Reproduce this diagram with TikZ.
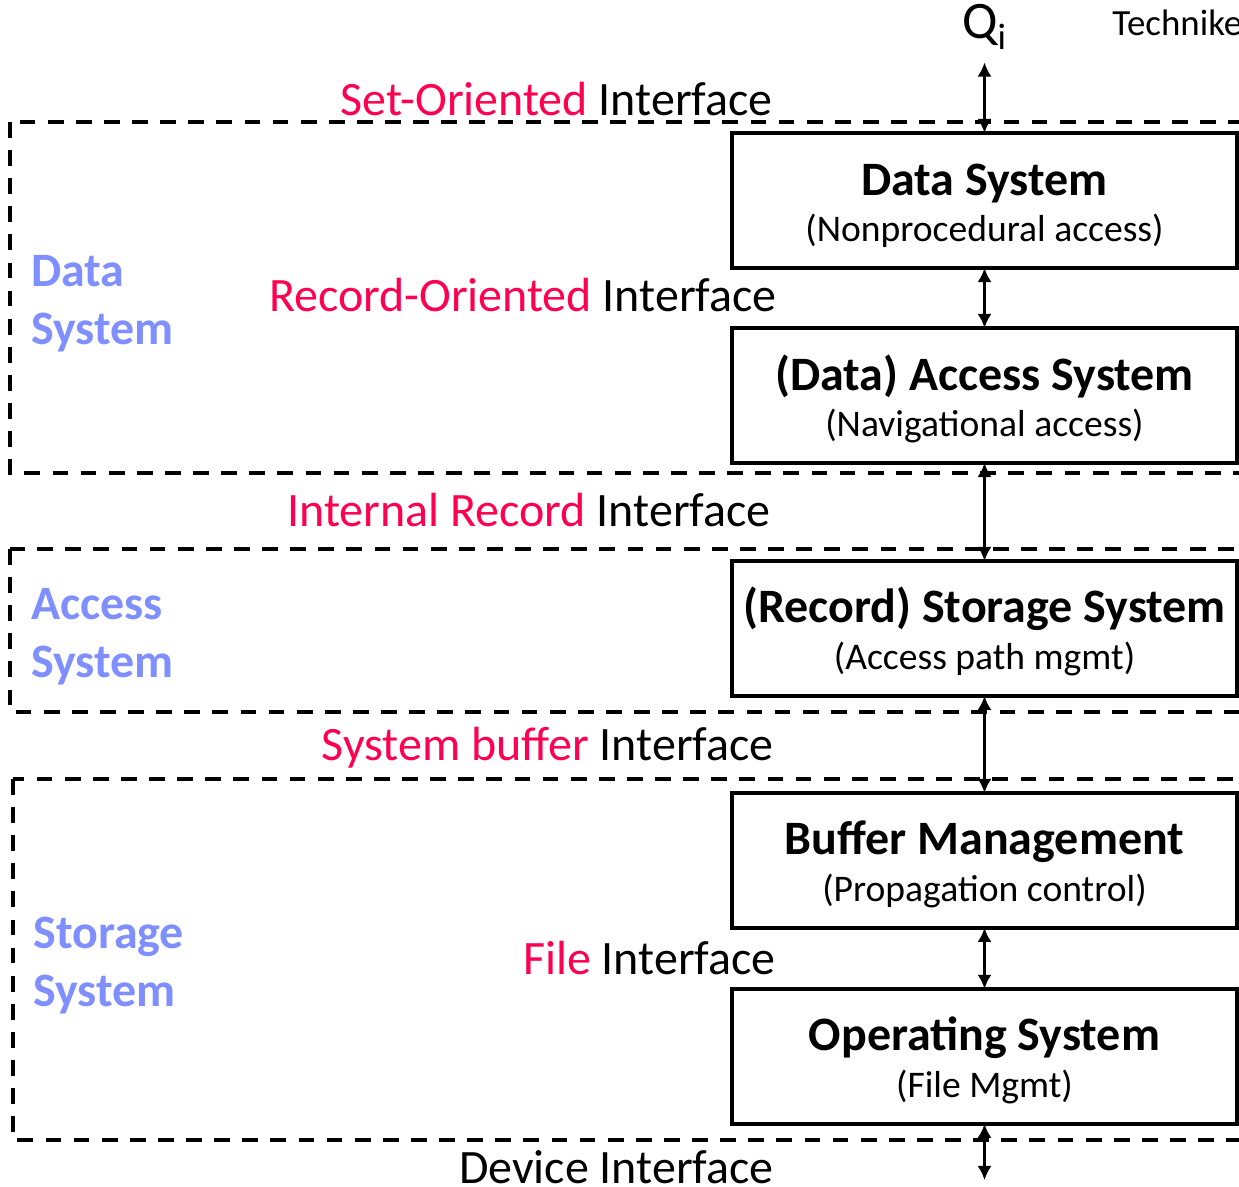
\documentclass[tikz,border=0pt]{standalone}
\usepackage{fontspec}
\setmainfont{Carlito}
\usetikzlibrary{positioning,arrows.meta}
\definecolor{ifred}{RGB}{255,0,80}
\definecolor{grpblue}{RGB}{127,143,255}
\tikzset{
  layerbox/.style={draw,line width=2pt,minimum width=10.1cm,minimum height=2.7cm,
    align=center,inner sep=0pt,outer sep=0pt,font=\fontsize{21.4}{26.6}\selectfont},
  groupbox/.style={draw,line width=2.2pt,dash pattern=on 9pt off 7pt},
  iflabel/.style={anchor=base east,inner sep=0pt,font=\fontsize{27.3}{32}\selectfont},
  grplabel/.style={anchor=north west,align=left,inner sep=0pt,text=grpblue,
    font=\bfseries\fontsize{27.3}{32.8}\selectfont},
  updown/.style={{Latex[length=8pt,width=8pt]}-{Latex[length=8pt,width=8pt]},line width=1.4pt}
}
\newcommand{\layertext}[2]{{\bfseries\fontsize{27.3}{26.6}\selectfont\rule{0pt}{25.4pt}#1}\\#2\rule[-5pt]{0pt}{5pt}}
\begin{document}
\begin{tikzpicture}[x=0.02cm,y=-0.02cm]
\useasboundingbox (0,0) rectangle (1239,1186);
% layer groups
\draw[groupbox] (10,122) rectangle (1260,473);
\draw[groupbox] (10,549) rectangle (1260,712);
\draw[groupbox] (13,779) rectangle (1260,1140);
\node[grplabel] (dsl) at (31,255) {Data\\System};
\node[grplabel] (asl) at (31,588) {Access\\System};
\node[grplabel] (ssl) at (33,917) {Storage\\System};

% layers
\node[layerbox] (DS) at (984.5,200.5) {\layertext{Data System}{(Nonprocedural access)}};
\node[layerbox,below=1.2cm of DS] (DAS) {\layertext{(Data) Access System}{(Navigational access)}};
\node[layerbox,below=1.96cm of DAS] (RSS) {\layertext{(Record) Storage System}{(Access path mgmt)}};
\node[layerbox,below=1.94cm of RSS] (BM) {\layertext{Buffer Management}{(Propagation control)}};
\node[layerbox,below=1.22cm of BM] (OS) {\layertext{Operating System}{(File Mgmt)}};

\node (Q) at (984.5,27) {\fontsize{30}{34}\selectfont Q\textsubscript{i}};
\node[anchor=base west,inner sep=0pt,font=\fontsize{21}{24}\selectfont] (tech) at (1112,36) {Technike};
\coordinate (dev) at (984.5,1180);

% interfaces
\node[iflabel] (sif) at (773,115) {\textcolor{ifred}{Set-Oriented} Interface};
\node[iflabel] (rif) at (777,311) {\textcolor{ifred}{Record-Oriented} Interface};
\node[iflabel] (irif) at (771,526) {\textcolor{ifred}{Internal Record} Interface};
\node[iflabel] (sbif) at (774,760) {\textcolor{ifred}{System buffer} Interface};
\node[iflabel] (fif) at (776,974) {\textcolor{ifred}{File} Interface};
\node[iflabel] (dif) at (774,1183) {Device Interface};

\path[updown] (Q) edge[shorten <=4pt] (DS);
\path[updown] (DS) edge (DAS);
\path[updown] (DAS) edge (RSS);
\path[updown] (RSS) edge (BM);
\path[updown] (BM) edge (OS);
\path[updown] (OS) edge (dev);
\end{tikzpicture}
\end{document}
